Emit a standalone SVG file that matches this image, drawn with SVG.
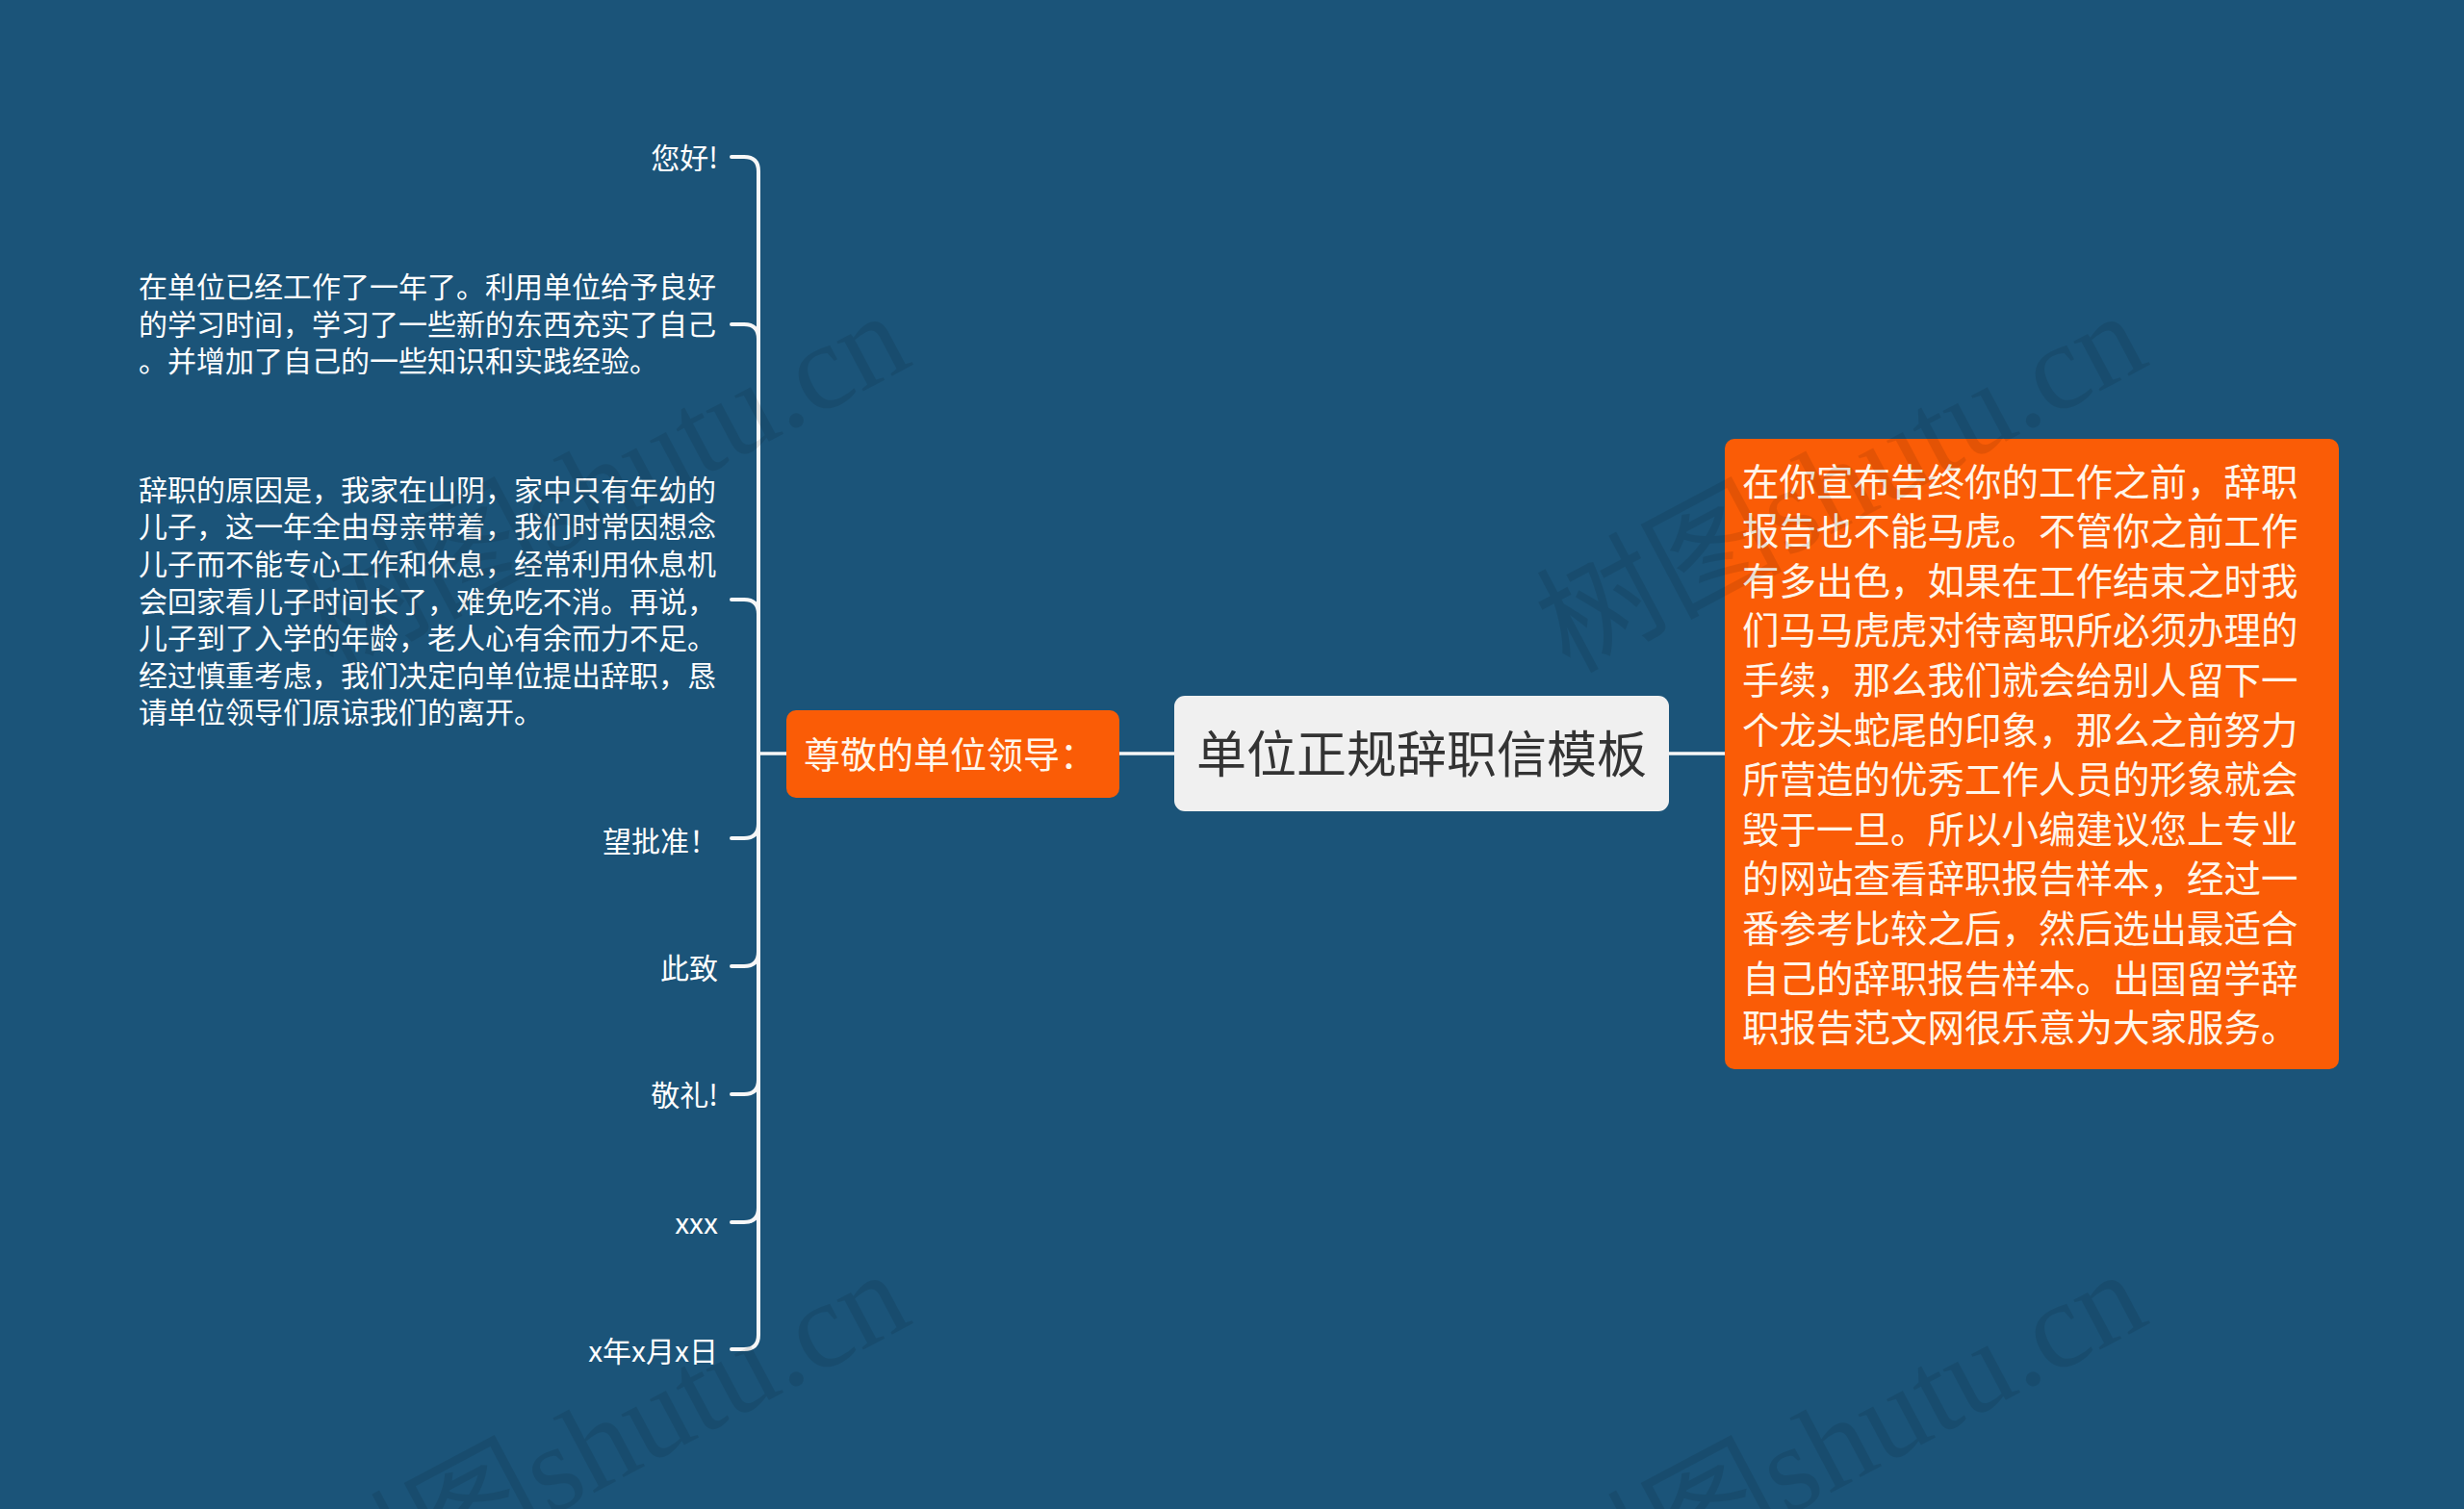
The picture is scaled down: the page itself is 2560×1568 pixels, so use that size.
<svg xmlns="http://www.w3.org/2000/svg" width="2560" height="1568" viewBox="0 0 2560 1568">
<style>
  .t { font-family: "Noto Sans CJK SC", "Noto Sans", sans-serif; }
  .leaf { font-size: 30px; fill: #ffffff; }
  .end { text-anchor: end; }
  .orange { fill: #fa5c06; }
  .otext { font-size: 38.5px; fill: #fff6ea; }
  .ctext { font-size: 52px; fill: #333333; text-anchor: middle; }
  .branch { fill: none; stroke: #f7f7f7; stroke-width: 4; stroke-linecap: round; }
  .link { fill: none; stroke: #f7f7f7; stroke-width: 3.5; }
  .wm { font-family: "Liberation Serif", "Noto Sans CJK SC", serif; font-size: 128px; fill: #000000; fill-opacity: 0.09; }
</style>
<rect x="0" y="0" width="2560" height="1568" fill="#1b5479"/>

<g id="connectors">
  <path class="link" d="M 817 783 H 788"/>
  <path class="link" d="M 1163 783 H 1220"/>
  <path class="link" d="M 1734 783 H 1792"/>
  <path class="branch" d="M 788 783 V 178 Q 788 163 773 163 H 760"/>
  <path class="branch" d="M 788 783 V 352 Q 788 337 773 337 H 760"/>
  <path class="branch" d="M 788 783 V 638 Q 788 623 773 623 H 760"/>
  <path class="branch" d="M 788 783 V 856 Q 788 871 773 871 H 760"/>
  <path class="branch" d="M 788 783 V 989 Q 788 1004 773 1004 H 760"/>
  <path class="branch" d="M 788 783 V 1122 Q 788 1137 773 1137 H 760"/>
  <path class="branch" d="M 788 783 V 1255 Q 788 1270 773 1270 H 760"/>
  <path class="branch" d="M 788 783 V 1387 Q 788 1402 773 1402 H 760"/>
</g>

<g id="root">
  <rect x="1220" y="723" width="514" height="120" rx="11" fill="#f0f0f0"/>
  <text class="t ctext" x="1477" y="802.5">单位正规辞职信模板</text>
</g>

<g id="n-greeting">
  <rect class="orange" x="817" y="738" width="346" height="91" rx="10"/>
  <text class="t otext" x="835" y="797.5" style="font-size:38px">尊敬的单位领导：</text>
</g>

<g id="n-intro">
  <rect class="orange" x="1792" y="456" width="638" height="655" rx="10"/>
  <text class="t otext" x="1810">
    <tspan x="1810" y="514.6">在你宣布告终你的工作之前，辞职</tspan>
    <tspan x="1810" y="566.2">报告也不能马虎。不管你之前工作</tspan>
    <tspan x="1810" y="617.8">有多出色，如果在工作结束之时我</tspan>
    <tspan x="1810" y="669.4">们马马虎虎对待离职所必须办理的</tspan>
    <tspan x="1810" y="721.0">手续，那么我们就会给别人留下一</tspan>
    <tspan x="1810" y="772.6">个龙头蛇尾的印象，那么之前努力</tspan>
    <tspan x="1810" y="824.2">所营造的优秀工作人员的形象就会</tspan>
    <tspan x="1810" y="875.8">毁于一旦。所以小编建议您上专业</tspan>
    <tspan x="1810" y="927.4">的网站查看辞职报告样本，经过一</tspan>
    <tspan x="1810" y="979.0">番参考比较之后，然后选出最适合</tspan>
    <tspan x="1810" y="1030.6">自己的辞职报告样本。出国留学辞</tspan>
    <tspan x="1810" y="1082.2">职报告范文网很乐意为大家服务。</tspan>
  </text>
</g>

<g id="n-hello">
  <text class="t leaf end" x="746" y="174.5">您好!</text>
</g>

<g id="n-para1">
  <text class="t leaf" x="144">
    <tspan x="144" y="309">在单位已经工作了一年了。利用单位给予良好</tspan>
    <tspan x="144" y="347.7">的学习时间，学习了一些新的东西充实了自己</tspan>
    <tspan x="144" y="386.4">。并增加了自己的一些知识和实践经验。</tspan>
  </text>
</g>

<g id="n-para2">
  <text class="t leaf" x="144">
    <tspan x="144" y="519.7">辞职的原因是，我家在山阴，家中只有年幼的</tspan>
    <tspan x="144" y="558.3">儿子，这一年全由母亲带着，我们时常因想念</tspan>
    <tspan x="144" y="596.9">儿子而不能专心工作和休息，经常利用休息机</tspan>
    <tspan x="144" y="635.5">会回家看儿子时间长了，难免吃不消。再说，</tspan>
    <tspan x="144" y="674.1">儿子到了入学的年龄，老人心有余而力不足。</tspan>
    <tspan x="144" y="712.7">经过慎重考虑，我们决定向单位提出辞职，恳</tspan>
    <tspan x="144" y="751.3">请单位领导们原谅我们的离开。</tspan>
  </text>
</g>

<g id="n-approve">
  <text class="t leaf end" x="746" y="884.5">望批准！</text>
</g>
<g id="n-cizhi">
  <text class="t leaf end" x="746" y="1017">此致</text>
</g>
<g id="n-jingli">
  <text class="t leaf end" x="746" y="1149">敬礼!</text>
</g>
<g id="n-xxx">
  <text class="t leaf end" x="746" y="1282">xxx</text>
</g>
<g id="n-date">
  <text class="t leaf end" x="746" y="1414.5">x年x月x日</text>
</g>

<g id="watermarks">
  <text class="wm" transform="translate(345 700) rotate(-28)">树图shutu.cn</text>
  <text class="wm" transform="translate(1630 700) rotate(-28)">树图shutu.cn</text>
  <text class="wm" transform="translate(345 1696) rotate(-28)">树图shutu.cn</text>
  <text class="wm" transform="translate(1630 1696) rotate(-28)">树图shutu.cn</text>
</g>
</svg>
